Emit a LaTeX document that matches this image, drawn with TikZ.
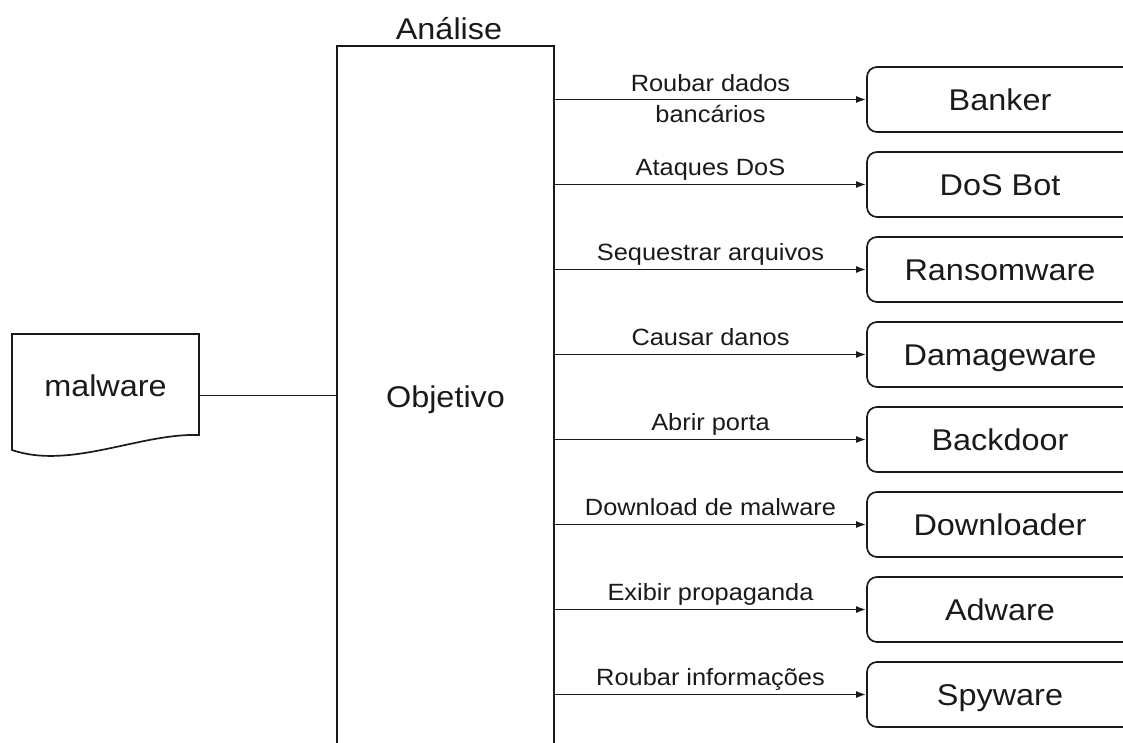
\documentclass[tikz,border=0pt]{standalone}
\usepackage{fontspec}
\setmainfont{Liberation Sans}[FakeStretch=1.08]
\usetikzlibrary{arrows.meta}
\definecolor{ink}{HTML}{1A1A1A}
\begin{document}
\begin{tikzpicture}[x=1pt,y=-1pt,
  line width=1.7pt, draw=ink,
  big/.style={font=\fontsize{30}{36}\selectfont, text=ink},
  kind/.style={big, draw=ink, rounded corners=10pt, minimum width=266pt,
    minimum height=65pt, inner sep=0pt, text height=21.5pt, text depth=0pt},
  goal/.style={big, draw=ink, minimum width=217pt, minimum height=701pt,
    inner sep=0pt, text height=21.5pt, text depth=0pt},
  flow/.style={draw=ink, -{Latex[length=10pt,width=7pt]}},
  tag/.style={font=\fontsize{23.5}{28}\selectfont, text=ink, anchor=base,
    pos=0.5, inner sep=0pt}
]
\useasboundingbox (0,0) rectangle (1123,743);
\fill[white] (0,0) rectangle (1123,743);
\clip (0,0) rectangle (1123,743);

% source document with wavy bottom edge
\draw[ink] (12,334) -- (199,334) -- (199,435)
  .. controls (140,433) and (70,470) .. (12,450) -- cycle;
\node[big, minimum width=187pt, minimum height=123pt, inner sep=0pt,
  text height=21.5pt, text depth=19pt] (mal) at (105.5,395.5) {malware};

% analysis column
\node[goal] (obj) at (445.5,396.5) {Objetivo};
\node[big, anchor=base, inner sep=0pt] (ana) at (449,40) {Análise};

\draw[ink] (mal.east) -- (obj.west |- mal.east);

% malware categories
\node[kind] (k1) at (1000,99.5)  {Banker};
\node[kind] (k2) at (1000,184.5) {DoS Bot};
\node[kind] (k3) at (1000,269.5) {Ransomware};
\node[kind] (k4) at (1000,354.5) {Damageware};
\node[kind] (k5) at (1000,439.5) {Backdoor};
\node[kind] (k6) at (1000,524.5) {Downloader};
\node[kind] (k7) at (1000,609.5) {Adware};
\node[kind] (k8) at (1000,694.5) {Spyware};

\draw[flow] (obj.east |- k1.west) -- (k1.west)
  node[tag, yshift=7.5pt] (t1a) {Roubar dados}
  node[tag, yshift=-23pt] (t1b) {bancários};
\draw[flow] (obj.east |- k2.west) -- (k2.west)
  node[tag, yshift=9pt] (t2) {Ataques DoS};
\draw[flow] (obj.east |- k3.west) -- (k3.west)
  node[tag, yshift=9pt] (t3) {Sequestrar arquivos};
\draw[flow] (obj.east |- k4.west) -- (k4.west)
  node[tag, yshift=9pt] (t4) {Causar danos};
\draw[flow] (obj.east |- k5.west) -- (k5.west)
  node[tag, yshift=9pt] (t5) {Abrir porta};
\draw[flow] (obj.east |- k6.west) -- (k6.west)
  node[tag, yshift=9pt] (t6) {Download de malware};
\draw[flow] (obj.east |- k7.west) -- (k7.west)
  node[tag, yshift=9pt] (t7) {Exibir propaganda};
\draw[flow] (obj.east |- k8.west) -- (k8.west)
  node[tag, yshift=9pt] (t8) {Roubar informações};
\end{tikzpicture}
\end{document}
